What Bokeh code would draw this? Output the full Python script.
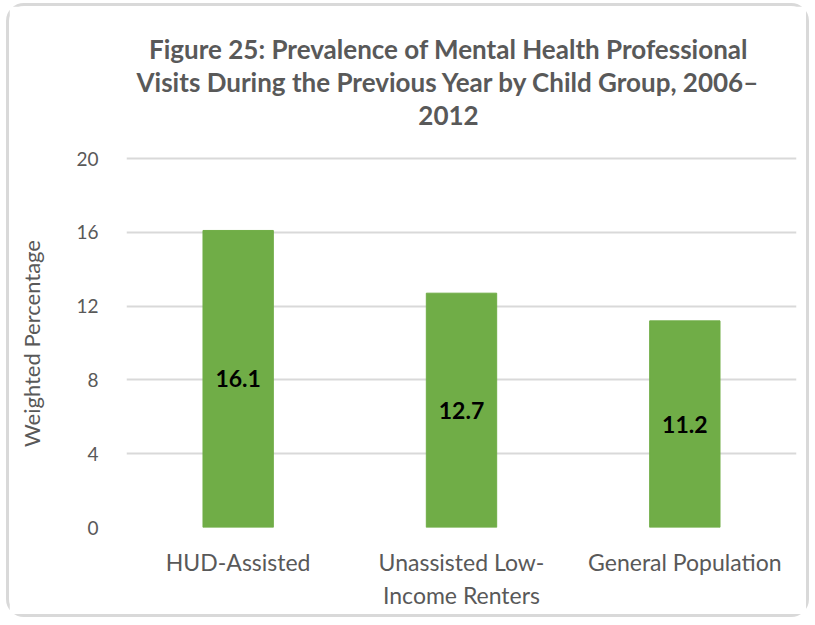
from bokeh.plotting import figure
from bokeh.models import ColumnDataSource, FixedTicker, Label
from bokeh.embed import file_html
from bokeh.resources import INLINE
from bokeh.core.properties import value

categories = ["HUD-Assisted", "Unassisted Low-\nIncome Renters", "General Population"]
values = [16.1, 12.7, 11.2]
value_labels = ["16.1", "12.7", "11.2"]
y_ticks = [0, 4, 8, 12, 16, 20]
y_title = "Weighted Percentage"
title_lines = ["Figure 25: Prevalence of Mental Health Professional",
               "Visits During the Previous Year by Child Group, 2006–",
               "2012"]

FONT = "Lato"
GREY = "#595959"

W, H = 803, 614
ML, MT, MR, MB = 117, 10, 16, 93
AXIS_PX = 369          # pixels spanned by 0..20 on the y axis
frame_h = H - MT - MB
y_end = 20 * frame_h / AXIS_PX

src = ColumnDataSource(dict(cat=categories, val=values,
                            mid=[v / 2 for v in values], lab=value_labels))

p = figure(x_range=categories, y_range=(0, y_end), width=W, height=H,
           output_backend="svg", toolbar_location=None,
           min_border_left=ML, min_border_right=MR, min_border_top=MT, min_border_bottom=MB)
p.styles = {"border": "3px solid #d9d9d9", "border-radius": "18px",
            "margin-left": "6px", "margin-top": "3px"}
p.outline_line_color = None
p.background_fill_color = "white"
p.border_fill_color = "white"
p.title = None

# title lines, placed in screen pixels relative to the plot frame (left, bottom)
for i, t in enumerate(title_lines):
    p.add_layout(Label(x=448 - 126, y=(527 - 48) - i * 33.5,
                       x_units="screen", y_units="screen",
                       text=t, text_align="center", text_baseline="middle",
                       text_font=FONT, text_font_style="bold", text_font_size="26px",
                       text_color=GREY))

p.vbar(x="cat", top="val", width=0.315, source=src, color="#70AD47")
p.text(x="cat", y="mid", text="lab", source=src, text_align="center", text_baseline="middle",
       text_font=value(FONT), text_font_style="bold", text_font_size="23px", text_color="black")

p.xgrid.grid_line_color = None
p.ygrid.grid_line_color = "#d9d9d9"
p.ygrid.grid_line_width = 1.8
p.yaxis.ticker = FixedTicker(ticks=y_ticks)
for ax in (p.xaxis, p.yaxis):
    ax.axis_line_color = None
    ax.major_tick_line_color = None
    ax.minor_tick_line_color = None
    ax.major_label_text_font = FONT
    ax.major_label_text_color = GREY
p.yaxis.major_label_text_font_size = "19px"
p.xaxis.major_label_text_font_size = "23px"
p.xaxis.major_label_text_line_height = 1.18
p.yaxis.major_label_standoff = 22
p.xaxis.major_label_standoff = 14
# trailing em/en spaces centre the visible title over the 0–20 span rather than the whole frame
p.yaxis.axis_label = y_title + "\u2003" * 8 + "\u2002"
p.yaxis.axis_label_text_font = FONT
p.yaxis.axis_label_text_font_size = "22px"
p.yaxis.axis_label_text_font_style = "normal"
p.yaxis.axis_label_text_color = GREY
p.yaxis.axis_label_standoff = 28

open("out.html", "w").write(file_html(p, INLINE))
